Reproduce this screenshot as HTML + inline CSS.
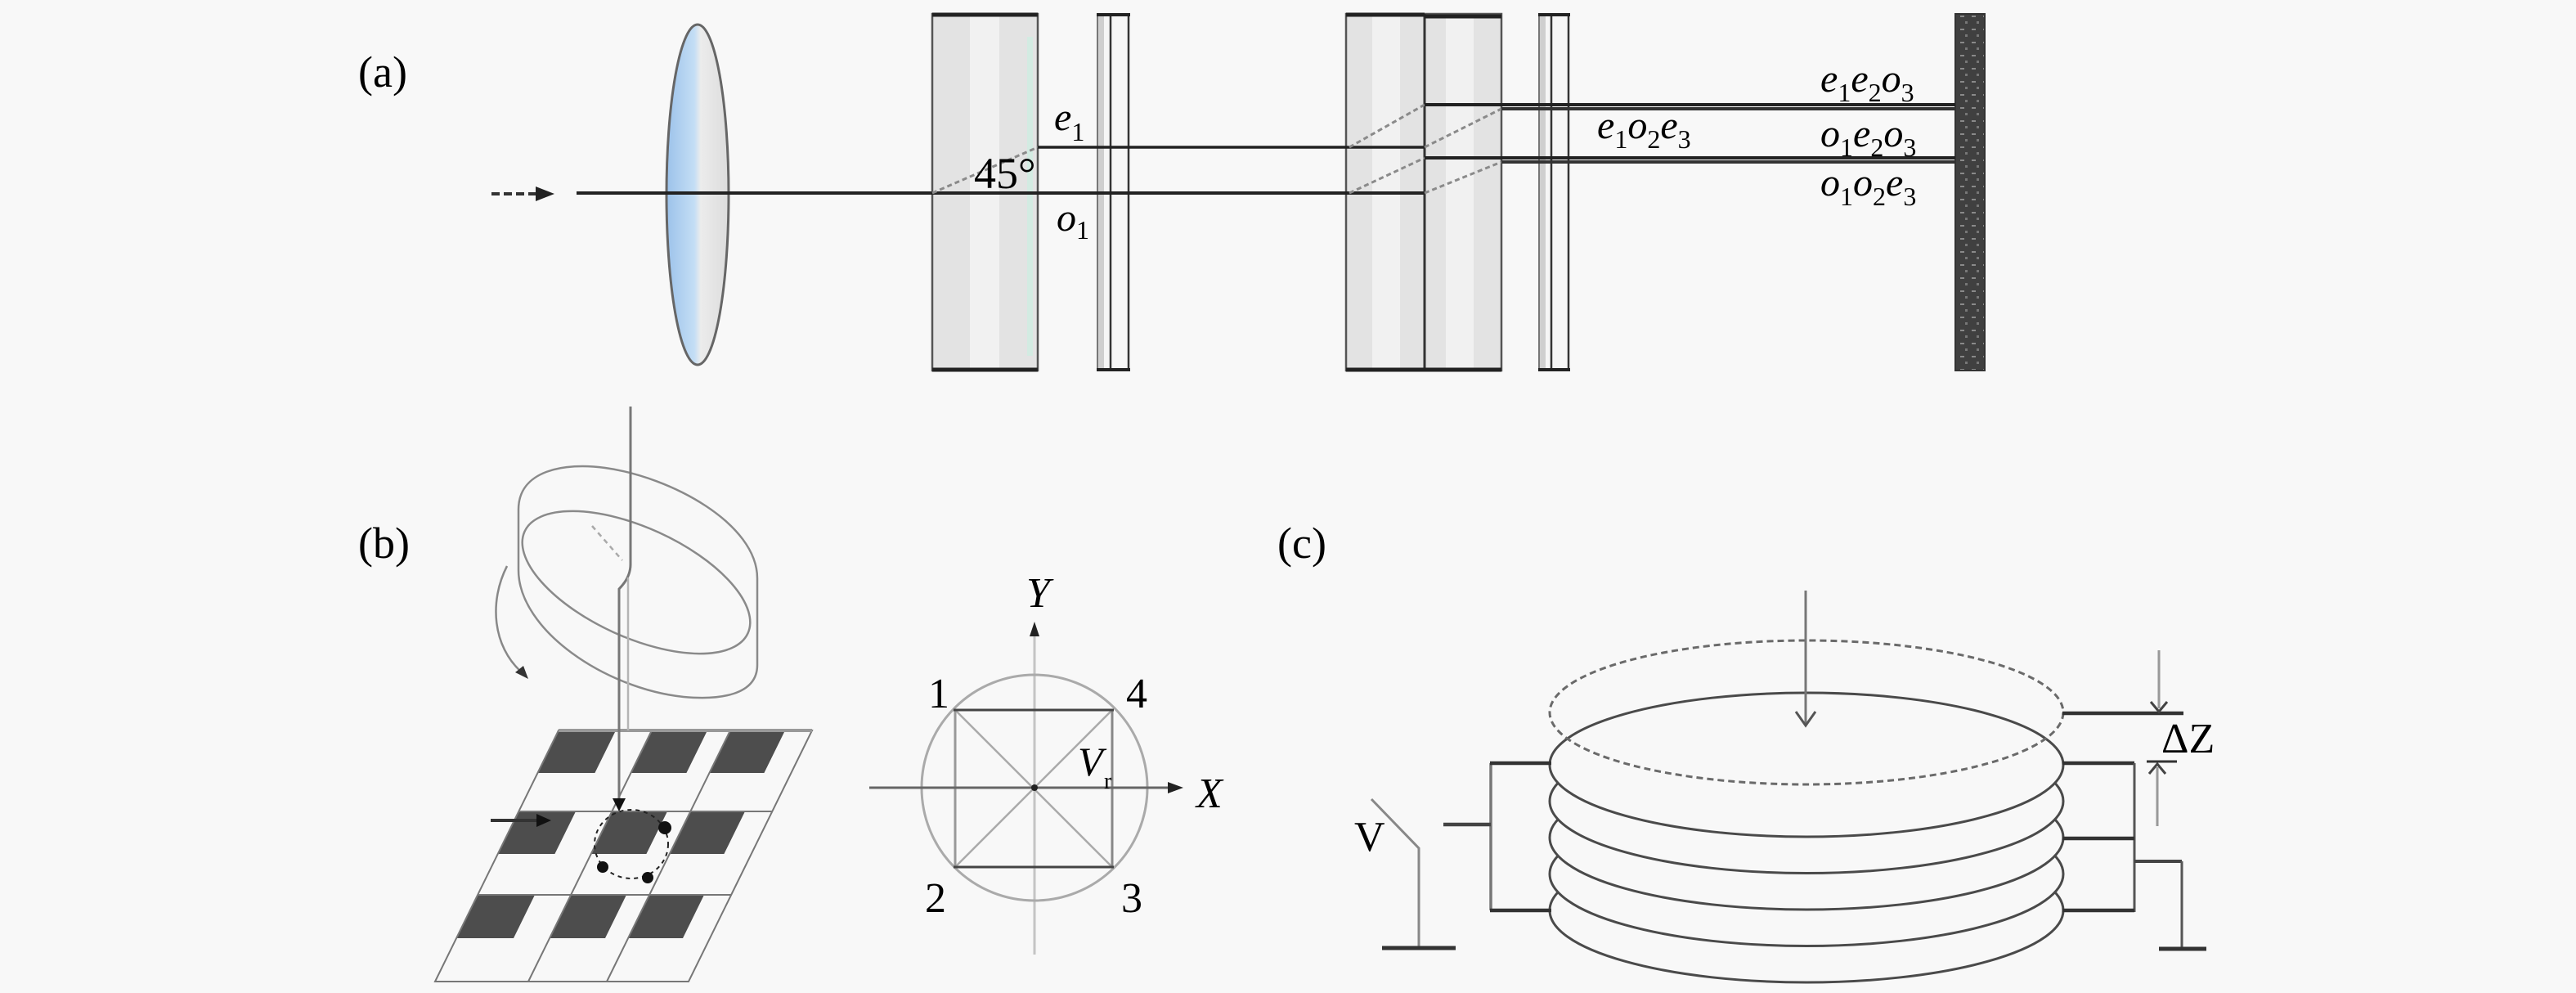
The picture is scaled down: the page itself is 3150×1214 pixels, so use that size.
<!DOCTYPE html>
<html><head><meta charset="utf-8">
<style>html,body{margin:0;padding:0;background:#f8f8f8;}svg{display:block;}
text{font-family:"Liberation Serif",serif;}</style>
</head><body>
<svg width="3150" height="1214" viewBox="0 0 3150 1214" xmlns="http://www.w3.org/2000/svg">
<defs>
<linearGradient id="lens" x1="0" x2="1" y1="0" y2="0">
<stop offset="0" stop-color="#9cc2ea"/>
<stop offset="0.45" stop-color="#c4def5"/>
<stop offset="0.55" stop-color="#ececec"/>
<stop offset="1" stop-color="#dcdcdc"/>
</linearGradient>
<pattern id="spk" width="14" height="16" patternUnits="userSpaceOnUse">
<rect width="14" height="16" fill="#404040"/>
<rect x="3" y="3" width="5" height="2" fill="#8a8a8a"/>
<rect x="9" y="10" width="3" height="3" fill="#777"/>
</pattern>
</defs>
<rect width="3150" height="1214" fill="#f8f8f8"/>

<!-- ============ (a) ============ -->
<text x="438" y="106" font-size="54">(a)</text>

<ellipse cx="853" cy="238" rx="38" ry="208" fill="url(#lens)" stroke="#666" stroke-width="3"/>

<line x1="601" y1="237" x2="657" y2="237" stroke="#333" stroke-width="4" stroke-dasharray="10 5"/>
<polygon points="655,228 678,237 655,246" fill="#222"/>

<!-- block 1 -->
<rect x="1140" y="17" width="129" height="436" fill="#e3e3e3"/>
<rect x="1186" y="19" width="36" height="432" fill="#f1f1f1"/>
<rect x="1256" y="45" width="7" height="390" fill="#d3ebe2"/>
<rect x="1140" y="17" width="129" height="436" fill="none" stroke="#555" stroke-width="2.5"/>
<line x1="1140" y1="18" x2="1269" y2="18" stroke="#222" stroke-width="5"/>
<line x1="1140" y1="452" x2="1269" y2="452" stroke="#222" stroke-width="5"/>

<!-- plate 1 -->
<rect x="1342" y="17" width="39" height="436" fill="#f6f6f6"/>
<rect x="1342" y="17" width="8" height="436" fill="#cfcfcf"/>
<line x1="1342" y1="17" x2="1342" y2="453" stroke="#777" stroke-width="2"/>
<line x1="1358" y1="17" x2="1358" y2="453" stroke="#333" stroke-width="2.5"/>
<line x1="1380" y1="17" x2="1380" y2="453" stroke="#333" stroke-width="2.5"/>
<line x1="1341" y1="18" x2="1382" y2="18" stroke="#222" stroke-width="4"/>
<line x1="1341" y1="452" x2="1382" y2="452" stroke="#222" stroke-width="4"/>

<!-- block 2 -->
<rect x="1646" y="17" width="190" height="436" fill="#e3e3e3"/>
<rect x="1678" y="19" width="34" height="432" fill="#f1f1f1"/>
<rect x="1768" y="19" width="34" height="432" fill="#f1f1f1"/>
<rect x="1646" y="17" width="190" height="436" fill="none" stroke="#555" stroke-width="2.5"/>
<line x1="1742" y1="17" x2="1742" y2="453" stroke="#333" stroke-width="3"/>
<line x1="1646" y1="18" x2="1742" y2="18" stroke="#222" stroke-width="5"/>
<line x1="1742" y1="20" x2="1836" y2="20" stroke="#222" stroke-width="5"/>
<line x1="1646" y1="452" x2="1836" y2="452" stroke="#222" stroke-width="5"/>

<!-- plate 2 -->
<rect x="1882" y="17" width="37" height="436" fill="#f6f6f6"/>
<rect x="1882" y="17" width="8" height="436" fill="#cfcfcf"/>
<line x1="1882" y1="17" x2="1882" y2="453" stroke="#777" stroke-width="2"/>
<line x1="1897" y1="17" x2="1897" y2="453" stroke="#333" stroke-width="2.5"/>
<line x1="1918" y1="17" x2="1918" y2="453" stroke="#333" stroke-width="2.5"/>
<line x1="1881" y1="18" x2="1920" y2="18" stroke="#222" stroke-width="4"/>
<line x1="1881" y1="452" x2="1920" y2="452" stroke="#222" stroke-width="4"/>

<!-- detector -->
<rect x="2391" y="17" width="36" height="436" fill="url(#spk)" stroke="#333" stroke-width="2"/>

<!-- beams -->
<line x1="705" y1="236" x2="1742" y2="236" stroke="#222" stroke-width="4"/>
<line x1="1140" y1="236" x2="1269" y2="180" stroke="#8a8a8a" stroke-width="3" stroke-dasharray="6 4"/>
<line x1="1269" y1="180" x2="1742" y2="180" stroke="#222" stroke-width="3.5"/>
<line x1="1650" y1="180" x2="1742" y2="128" stroke="#8a8a8a" stroke-width="3" stroke-dasharray="6 4"/>
<line x1="1650" y1="236" x2="1742" y2="193" stroke="#8a8a8a" stroke-width="3" stroke-dasharray="6 4"/>
<line x1="1742" y1="180" x2="1836" y2="133" stroke="#8a8a8a" stroke-width="3" stroke-dasharray="6 4"/>
<line x1="1742" y1="236" x2="1836" y2="198" stroke="#8a8a8a" stroke-width="3" stroke-dasharray="6 4"/>
<line x1="1742" y1="128" x2="2391" y2="128" stroke="#222" stroke-width="4"/>
<line x1="1836" y1="133" x2="2391" y2="133" stroke="#333" stroke-width="4"/>
<line x1="1742" y1="193" x2="2391" y2="193" stroke="#222" stroke-width="4"/>
<line x1="1836" y1="198" x2="2391" y2="198" stroke="#333" stroke-width="4"/>

<!-- (a) labels -->
<text x="1191" y="230" font-size="54">45°</text>
<text x="1289" y="159" font-size="48" font-style="italic">e<tspan font-size="32" font-style="normal" dy="13">1</tspan></text>
<text x="1292" y="282" font-size="48" font-style="italic">o<tspan font-size="32" font-style="normal" dy="10">1</tspan></text>
<text x="1953" y="169" font-size="48" font-style="italic">e<tspan font-size="32" font-style="normal" dy="12">1</tspan><tspan dy="-12">o</tspan><tspan font-size="32" font-style="normal" dy="12">2</tspan><tspan dy="-12">e</tspan><tspan font-size="32" font-style="normal" dy="12">3</tspan></text>
<text x="2226" y="112" font-size="48" font-style="italic">e<tspan font-size="32" font-style="normal" dy="12">1</tspan><tspan dy="-12">e</tspan><tspan font-size="32" font-style="normal" dy="12">2</tspan><tspan dy="-12">o</tspan><tspan font-size="32" font-style="normal" dy="12">3</tspan></text>
<text x="2226" y="179" font-size="48" font-style="italic">o<tspan font-size="32" font-style="normal" dy="12">1</tspan><tspan dy="-12">e</tspan><tspan font-size="32" font-style="normal" dy="12">2</tspan><tspan dy="-12">o</tspan><tspan font-size="32" font-style="normal" dy="12">3</tspan></text>
<text x="2226" y="239" font-size="48" font-style="italic">o<tspan font-size="32" font-style="normal" dy="12">1</tspan><tspan dy="-12">o</tspan><tspan font-size="32" font-style="normal" dy="12">2</tspan><tspan dy="-12">e</tspan><tspan font-size="32" font-style="normal" dy="12">3</tspan></text>

<!-- ============ (b) ============ -->
<text x="438" y="682" font-size="54">(b)</text>

<!-- tilted ring -->
<g fill="none" stroke="#8a8a8a" stroke-width="2.5">
<path d="M634 623 C634 575, 690 565, 740 572 C820 583, 926 640, 926 707"/>
<path d="M926 813 C926 850, 880 856, 836 852 C740 842, 634 770, 634 697"/>
<line x1="634" y1="623" x2="634" y2="697"/>
<line x1="926" y1="707" x2="926" y2="813"/>
<ellipse cx="778" cy="712" rx="150" ry="67" transform="rotate(24.5 778 712)"/>
</g>
<line x1="724" y1="643" x2="761" y2="685" stroke="#aaa" stroke-width="2.5" stroke-dasharray="6 5"/>
<!-- rotation arrow -->
<path d="M620 692 C598 735, 602 790, 638 822" fill="none" stroke="#888" stroke-width="2.5"/>
<polygon points="630,822 646,830 640,814" fill="#333"/>

<!-- grid -->
<g fill="#4d4d4d">
<polygon points="683,893 753,893 727.4,945 657.4,945"/>
<polygon points="797,893 865,893 839.4,945 771.4,945"/>
<polygon points="893,893 960,893 934.4,945 867.4,945"/>
<polygon points="634,992 704,992 678.4,1044 608.4,1044"/>
<polygon points="748,992 816,992 790.4,1044 722.4,1044"/>
<polygon points="844,992 911,992 885.4,1044 818.4,1044"/>
<polygon points="584,1094 654,1094 628,1147 558,1147"/>
<polygon points="698,1094 766,1094 740,1147 672,1147"/>
<polygon points="794,1094 861,1094 835,1147 768,1147"/>
</g>
<g fill="none" stroke="#777" stroke-width="2">
<polygon points="683,893 993,893 842,1200 532,1200"/>
<line x1="797" y1="893" x2="646" y2="1200"/>
<line x1="893" y1="893" x2="742" y2="1200"/>
<line x1="634.3" y1="992" x2="944.3" y2="992"/>
<line x1="584.1" y1="1094" x2="894.1" y2="1094"/>
</g>
<line x1="683" y1="893" x2="993" y2="893" stroke="#999" stroke-width="4"/>

<!-- rod -->
<path d="M771 497 L771 690 Q771 706 757 720 L757 980" fill="none" stroke="#777" stroke-width="3"/>
<line x1="768" y1="706" x2="768" y2="893" stroke="#b5b5b5" stroke-width="2.5"/>
<polygon points="749,976 765,976 757,992" fill="#111"/>
<ellipse cx="772" cy="1032" rx="45" ry="42" fill="none" stroke="#222" stroke-width="2" stroke-dasharray="5 5"/>
<circle cx="737" cy="1060" r="7" fill="#111"/>
<circle cx="792" cy="1073" r="7" fill="#111"/>
<circle cx="813" cy="1012" r="8" fill="#111"/>
<line x1="600" y1="1003" x2="660" y2="1003" stroke="#333" stroke-width="4"/>
<polygon points="656,995 674,1003 656,1011" fill="#111"/>

<!-- axes diagram -->
<line x1="1265" y1="770" x2="1265" y2="1167" stroke="#c4c4c4" stroke-width="3"/>
<polygon points="1259,778 1265,760 1271,778" fill="#222"/>
<circle cx="1265" cy="963" r="138" fill="none" stroke="#aaa" stroke-width="3"/>
<line x1="1168" y1="868" x2="1360" y2="1060" stroke="#aaa" stroke-width="2.5"/>
<line x1="1360" y1="868" x2="1168" y2="1060" stroke="#aaa" stroke-width="2.5"/>
<line x1="1168" y1="868" x2="1168" y2="1060" stroke="#999" stroke-width="3"/>
<line x1="1360" y1="868" x2="1360" y2="1060" stroke="#888" stroke-width="3"/>
<line x1="1166" y1="868" x2="1362" y2="868" stroke="#444" stroke-width="3"/>
<line x1="1166" y1="1060" x2="1362" y2="1060" stroke="#444" stroke-width="3"/>
<line x1="1063" y1="963" x2="1432" y2="963" stroke="#666" stroke-width="3"/>
<polygon points="1428,956 1447,963 1428,970" fill="#222"/>
<circle cx="1265" cy="963" r="4" fill="#222"/>
<text x="1255" y="742" font-size="52" font-style="italic">Y</text>
<text x="1463" y="987" font-size="52" font-style="italic">X</text>
<text x="1135" y="865" font-size="52">1</text>
<text x="1377" y="865" font-size="52">4</text>
<text x="1131" y="1115" font-size="52">2</text>
<text x="1371" y="1115" font-size="52">3</text>
<text x="1318" y="948" font-size="50" font-style="italic">V</text>
<text x="1350" y="964" font-size="28">r</text>

<!-- ============ (c) ============ -->
<text x="1562" y="682" font-size="54">(c)</text>

<g stroke="#4a4a4a" stroke-width="3" fill="#f8f8f8">
<ellipse cx="2209" cy="1113" rx="314" ry="88"/>
<ellipse cx="2209" cy="1068.5" rx="314" ry="88"/>
<ellipse cx="2209" cy="1024" rx="314" ry="88"/>
<ellipse cx="2209" cy="979.5" rx="314" ry="88"/>
<ellipse cx="2209" cy="935" rx="314" ry="88"/>
</g>
<ellipse cx="2209" cy="871" rx="314" ry="88" fill="none" stroke="#6a6a6a" stroke-width="3" stroke-dasharray="8 5"/>

<line x1="2208" y1="722" x2="2208" y2="886" stroke="#777" stroke-width="3"/>
<polyline points="2196,870 2208,887 2220,870" fill="none" stroke="#555" stroke-width="3"/>

<!-- left circuit -->
<line x1="1823" y1="933" x2="1823" y2="1113" stroke="#777" stroke-width="3.5"/>
<line x1="1822" y1="933" x2="1897" y2="933" stroke="#333" stroke-width="4.5"/>
<line x1="1822" y1="1113" x2="1897" y2="1113" stroke="#333" stroke-width="4.5"/>
<line x1="1765" y1="1008" x2="1823" y2="1008" stroke="#444" stroke-width="4.5"/>
<polyline points="1677,977 1735,1037 1735,1157" fill="none" stroke="#888" stroke-width="3"/>
<line x1="1690" y1="1159" x2="1780" y2="1159" stroke="#333" stroke-width="5"/>
<text x="1656" y="1040" font-size="52">V</text>

<!-- right circuit -->
<line x1="2522" y1="872" x2="2670" y2="872" stroke="#333" stroke-width="4.5"/>
<line x1="2640" y1="795" x2="2640" y2="866" stroke="#999" stroke-width="3"/>
<polyline points="2630,858 2640,870 2650,858" fill="none" stroke="#444" stroke-width="3"/>
<text x="2643" y="920" font-size="52">ΔZ</text>
<line x1="2522" y1="933" x2="2610" y2="933" stroke="#333" stroke-width="4.5"/>
<line x1="2610" y1="933" x2="2610" y2="1115" stroke="#555" stroke-width="3"/>
<line x1="2522" y1="1025" x2="2610" y2="1025" stroke="#333" stroke-width="4.5"/>
<line x1="2522" y1="1113" x2="2610" y2="1113" stroke="#333" stroke-width="4.5"/>
<line x1="2610" y1="1053" x2="2668" y2="1053" stroke="#444" stroke-width="4"/>
<line x1="2668" y1="1053" x2="2668" y2="1160" stroke="#555" stroke-width="3"/>
<line x1="2640" y1="1160" x2="2698" y2="1160" stroke="#333" stroke-width="5"/>
<line x1="2638" y1="1010" x2="2638" y2="938" stroke="#999" stroke-width="3"/>
<polyline points="2628,946 2638,934 2648,946" fill="none" stroke="#444" stroke-width="3"/>
<line x1="2625" y1="931" x2="2662" y2="931" stroke="#333" stroke-width="3"/>
</svg>
</body></html>
